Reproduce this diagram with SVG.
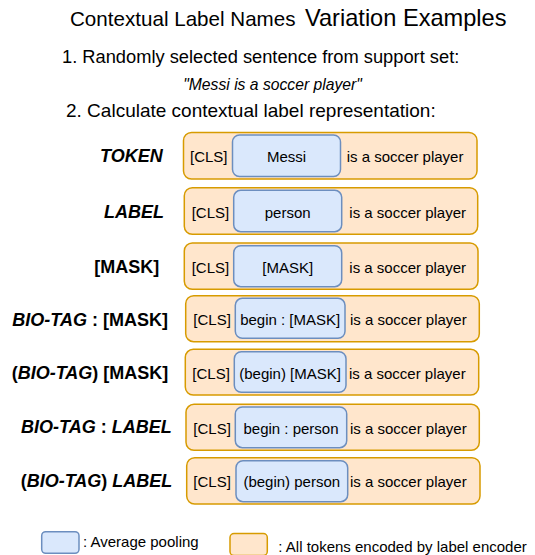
<svg xmlns="http://www.w3.org/2000/svg" width="535" height="555" viewBox="0 0 535 555">
<style>
text{font-family:"Liberation Sans",Arial,Helvetica,sans-serif;fill:#000}
.t{font-size:15px}
.m{text-anchor:middle}
.lb{font-size:18px;font-weight:bold}
.i{font-style:italic}
.or{fill:#ffe6cc;stroke:#d79b00;stroke-width:1.5}
.bl{fill:#dae8fc;stroke:#6c8ebf;stroke-width:1.5}
</style>
<rect width="535" height="555" fill="#ffffff"/>
<g id="title">
<text y="26"><tspan x="70" font-size="20.6">Contextual Label Names</tspan><tspan x="305" font-size="23.6">Variation Examples</tspan></text>
</g>
<g id="step1">
<text x="62" y="63" font-size="18.3">1. Randomly selected sentence from support set:</text>
<text x="272.5" y="89.5" font-size="15.7" class="i m">"Messi is a soccer player"</text>
</g>
<g id="step2">
<text x="66" y="117" font-size="19">2. Calculate contextual label representation:</text>
</g>
<g id="connectors"></g>
<g id="row-token">
<text x="100" y="162.3" class="lb i">TOKEN</text>
<rect class="or" x="183.5" y="132.5" width="293.5" height="46.5" rx="8"/>
<rect class="bl" x="232.5" y="135" width="108" height="41.5" rx="7"/>
<text x="190" y="162" class="t">[CLS]</text>
<text x="286.5" y="162" class="t m">Messi</text>
<text x="346.7" y="162" class="t">is a soccer player</text>
</g>
<g id="row-label">
<text x="104" y="217.7" class="lb i">LABEL</text>
<rect class="or" x="184.3" y="187.7" width="293.4" height="46.6" rx="8"/>
<rect class="bl" x="233.7" y="190.3" width="108" height="41.4" rx="7"/>
<text x="191.7" y="217.5" class="t">[CLS]</text>
<text x="287.7" y="217.5" class="t m">person</text>
<text x="349.3" y="217.5" class="t">is a soccer player</text>
</g>
<g id="row-mask">
<text x="94.3" y="273" class="lb">[MASK]</text>
<rect class="or" x="184.3" y="243" width="293.7" height="46.3" rx="8"/>
<rect class="bl" x="233.7" y="245.7" width="108" height="41" rx="7"/>
<text x="191.7" y="272.7" class="t">[CLS]</text>
<text x="287.7" y="272.7" class="t m">[MASK]</text>
<text x="349.3" y="272.7" class="t">is a soccer player</text>
</g>
<g id="row-biotag-colon-mask">
<text x="12.3" y="325.7" class="lb"><tspan class="i">BIO-TAG</tspan> : [MASK]</text>
<rect class="or" x="185.7" y="295.7" width="293.6" height="46" rx="8"/>
<rect class="bl" x="235.3" y="298.3" width="109.7" height="40" rx="7"/>
<text x="193.3" y="325.2" class="t">[CLS]</text>
<text x="290.2" y="325.2" class="t m">begin : [MASK]</text>
<text x="350" y="325.2" class="t">is a soccer player</text>
</g>
<g id="row-paren-biotag-mask">
<text x="11.7" y="378.7" class="lb">(<tspan class="i">BIO-TAG</tspan>) [MASK]</text>
<rect class="or" x="185.3" y="349.3" width="293.4" height="45.7" rx="8"/>
<rect class="bl" x="234.3" y="351.7" width="111.7" height="40.6" rx="7"/>
<text x="192.3" y="378.7" class="t">[CLS]</text>
<text x="290.1" y="378.7" class="t m">(begin) [MASK]</text>
<text x="349" y="378.7" class="t">is a soccer player</text>
</g>
<g id="row-biotag-colon-label">
<text x="21" y="433" class="lb i">BIO-TAG<tspan font-style="normal"> : </tspan>LABEL</text>
<rect class="or" x="186" y="404.3" width="293.3" height="46" rx="8"/>
<rect class="bl" x="235.3" y="407" width="111.4" height="40.7" rx="7"/>
<text x="193.3" y="433.8" class="t">[CLS]</text>
<text x="291" y="433.8" class="t m">begin : person</text>
<text x="350" y="433.8" class="t">is a soccer player</text>
</g>
<g id="row-paren-biotag-label">
<text x="20.7" y="487" class="lb">(<tspan class="i">BIO-TAG</tspan>) <tspan class="i">LABEL</tspan></text>
<rect class="or" x="186.7" y="457.7" width="293.3" height="46.3" rx="8"/>
<rect class="bl" x="236" y="460.7" width="111.7" height="41" rx="7"/>
<text x="193.3" y="487.4" class="t">[CLS]</text>
<text x="291.8" y="487.4" class="t m">(begin) person</text>
<text x="350" y="487.4" class="t">is a soccer player</text>
</g>
<g id="legend-pooling">
<rect class="bl" x="41.7" y="531.7" width="37.3" height="21.6" rx="4"/>
<text x="83" y="547" class="t">: Average pooling</text>
</g>
<g id="legend-encoder">
<rect class="or" x="230" y="533.5" width="37.3" height="22" rx="4"/>
<text x="278.3" y="552" class="t">: All tokens encoded by label encoder</text>
</g>
</svg>
